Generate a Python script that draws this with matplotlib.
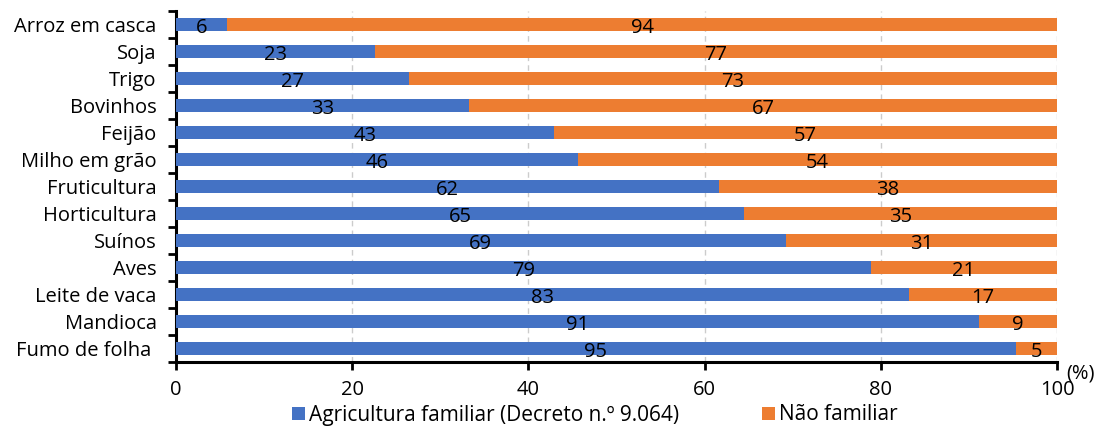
import matplotlib.pyplot as plt
import numpy as np

plt.rcParams['font.family'] = ['Open Sans', 'DejaVu Sans']

# datos (de arriba hacia abajo)
categorias = ['Arroz em casca', 'Soja', 'Trigo', 'Bovinhos', 'Feijão', 'Milho em grão',
              'Fruticultura', 'Horticultura', 'Suínos', 'Aves', 'Leite de vaca',
              'Mandioca', 'Fumo de folha ']
familiar = [5.8, 22.6, 26.4, 33.3, 42.9, 45.6, 61.6, 64.5, 69.2, 78.9, 83.2, 91.1, 95.3]
nao_familiar = [94.2, 77.4, 73.6, 66.7, 57.1, 54.4, 38.4, 35.5, 30.8, 21.1, 16.8, 8.9, 4.7]
rot_familiar = [6, 23, 27, 33, 43, 46, 62, 65, 69, 79, 83, 91, 95]
rot_nao = [94, 77, 73, 67, 57, 54, 38, 35, 31, 21, 17, 9, 5]

azul = '#4472C4'
laranja = '#ED7D31'
fs = 14.5

fig = plt.figure(figsize=(11.04, 4.32), dpi=100)
ax = fig.add_axes([176/1104, 1-362/432, (1057-176)/1104, (362-11)/432])

y = np.arange(len(categorias))
b1 = ax.barh(y, familiar, height=0.45, color=azul, label='Agricultura familiar (Decreto n.º 9.064)', zorder=3)
b2 = ax.barh(y, nao_familiar, left=familiar, height=0.45, color=laranja, label='Não familiar', zorder=3)

for i in range(len(categorias)):
    ax.text(familiar[i] / 2, y[i] + 0.12, str(rot_familiar[i]), ha='center', va='center', fontsize=fs, zorder=4)
    ax.text(familiar[i] + nao_familiar[i] / 2, y[i] + 0.12, str(rot_nao[i]), ha='center', va='center', fontsize=fs, zorder=4)

ax.set_ylim(len(categorias) - 0.5, -0.5)
ax.set_xlim(0, 100)
ax.set_xticks([0, 20, 40, 60, 80, 100])
ax.tick_params(axis='x', labelsize=fs, width=2, length=6, direction='out', pad=7)

# marcas del eje y entre categorías
ax.set_yticks(y)
ax.set_yticklabels(categorias, fontsize=fs)
ax.tick_params(axis='y', length=0, pad=14)
ax.set_yticks(np.arange(-0.5, len(categorias)), minor=True)
ax.tick_params(axis='y', which='minor', length=6, width=2, direction='out')

ax.grid(axis='x', color='#cccccc', linestyle=(0, (4, 3)), linewidth=1, zorder=0)
for s in ['top', 'right']:
    ax.spines[s].set_visible(False)
ax.spines['left'].set_linewidth(2.2)
ax.spines['bottom'].set_linewidth(2.2)

fig.text(1066/1104, 1-373/432, '(%)', fontsize=fs, ha='left', va='center')

fig.legend(handles=[b1, b2], loc='center', bbox_to_anchor=(595/1104, 1-415/432), ncol=2,
           frameon=False, fontsize=15, handlelength=0.6, handleheight=0.6,
           handletextpad=0.2, columnspacing=4.0)

fig.savefig('out.png', dpi=100)
